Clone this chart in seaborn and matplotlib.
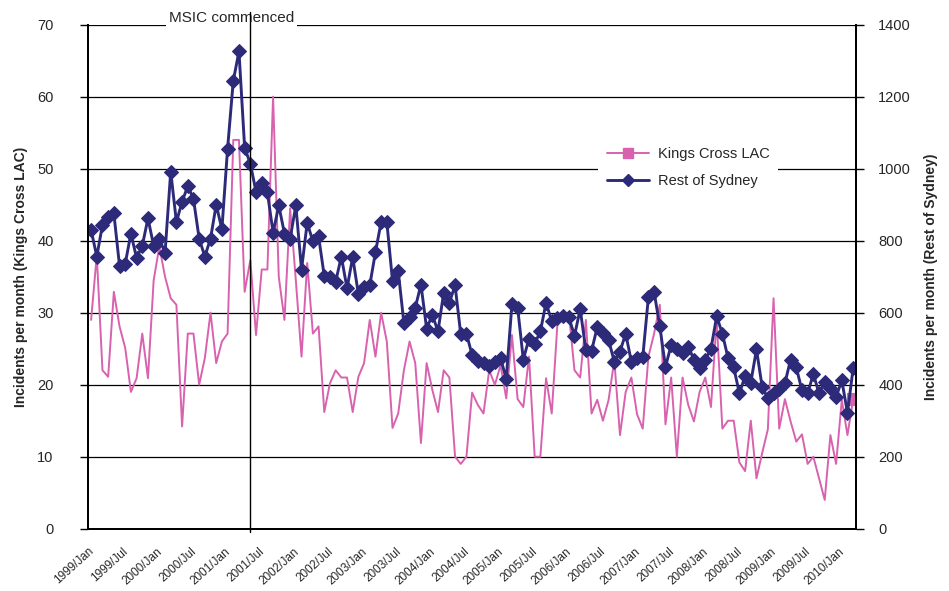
import numpy as np
import pandas as pd
import matplotlib
matplotlib.use("Agg")
import matplotlib.pyplot as plt
import seaborn as sns
from matplotlib.lines import Line2D

# monthly incidents, Jan 1999 - Mar 2010
kings_cross = [
    29.0, 38.0, 22.0, 21.1, 32.9, 28.1, 25.1, 19.0, 20.9, 27.1, 20.9, 34.5,
    39.2, 35.0, 32.0, 31.1, 14.2, 27.1, 27.1, 20.0, 23.7, 30.0, 23.0, 26.0,
    27.1, 54.0, 54.0, 32.9, 37.3, 26.9, 36.0, 36.0, 60.0, 35.0, 29.0, 44.5,
    34.5, 23.9, 36.9, 27.1, 28.1, 16.2, 20.2, 22.0, 21.0, 21.0, 16.2, 21.1,
    23.0, 29.0, 23.9, 30.0, 26.0, 14.0, 16.0, 22.0, 26.0, 23.0, 11.9, 23.0,
    19.3, 16.2, 22.0, 21.0, 10.0, 9.0, 10.0, 18.9, 17.2, 16.0, 22.0, 20.0,
    22.7, 18.1, 26.9, 18.0, 16.9, 23.9, 10.0, 10.0, 20.9, 16.0, 28.5, 29.7,
    30.0, 22.0, 21.0, 29.0, 16.0, 17.9, 15.0, 17.9, 23.4, 13.0, 19.0, 21.0,
    15.9, 13.9, 23.9, 27.1, 31.1, 14.5, 21.0, 10.0, 21.0, 17.2, 14.9, 19.0,
    21.0, 16.9, 29.0, 13.9, 15.0, 15.0, 9.2, 8.0, 15.0, 7.0, 10.5, 13.8,
    32.0, 13.9, 18.0, 14.9, 12.1, 13.1, 9.0, 10.0, 7.0, 4.0, 13.0, 9.0,
    17.9, 13.0, 18.0,
]
rest_of_sydney = [
    830, 756, 844, 866, 876, 730, 736, 820, 752, 786, 862, 786,
    806, 766, 992, 852, 908, 952, 916, 806, 756, 806, 900, 832,
    1056, 1244, 1326, 1058, 1014, 936, 960, 934, 822, 898, 820, 806,
    898, 720, 850, 798, 812, 702, 700, 686, 756, 668, 754, 652,
    672, 676, 768, 852, 852, 688, 716, 572, 588, 614, 678, 556,
    594, 548, 656, 628, 676, 540, 542, 482, 466, 460, 452, 464,
    474, 416, 624, 614, 470, 528, 514, 548, 628, 576, 584, 590,
    588, 536, 610, 496, 494, 560, 544, 524, 464, 492, 542, 464,
    474, 476, 644, 658, 562, 450, 510, 500, 488, 506, 470, 446,
    470, 500, 590, 542, 474, 448, 376, 424, 406, 498, 394, 362,
    376, 388, 404, 470, 448, 384, 376, 430, 376, 408, 390, 366,
    412, 322, 446,
]
msic_month = "2001/May"

months = pd.date_range("1999-01-01", periods=len(kings_cross), freq="MS")
month_labels = [d.strftime("%Y/%b") for d in months]
df = pd.DataFrame({
    "pos": np.arange(len(month_labels)),
    "month": month_labels,
    "kings": kings_cross,
    "rest": rest_of_sydney,
})

pink = "#D862AE"
navy = "#2D2A7A"

sns.set_theme(style="white")
plt.rcParams["font.family"] = ["Liberation Sans", "DejaVu Sans"]

fig = plt.figure(figsize=(9.49, 5.91), dpi=100)
ax = fig.add_axes([0.093, 0.1054, 0.809, 0.8528])
ax2 = ax.twinx()

# Kings Cross on the left axis, thin pink line
sns.lineplot(data=df, x="pos", y="kings", ax=ax, color=pink, lw=1.4,
             marker="s", markersize=8, markevery=[len(df) - 1],
             markeredgecolor=pink, legend=False)
# Rest of Sydney on the right axis, navy with diamonds
sns.lineplot(data=df, x="pos", y="rest", ax=ax2, color=navy, lw=2.1,
             marker="D", markersize=7.5, markeredgecolor=navy, legend=False)

n = len(df)
ax.set_xlim(-0.5, n - 0.5)
ax.set_ylim(0, 70)
ax2.set_ylim(0, 1400)
ax.set_yticks(range(0, 71, 10))
ax2.set_yticks(range(0, 1401, 200))
ax.yaxis.grid(True, color="black", lw=0.9)
ax.set_axisbelow(True)

xt = np.arange(0, n, 6) - 0.5
ax.set_xticks(xt)
ax.set_xticklabels([month_labels[i] for i in range(0, n, 6)], rotation=42,
                   ha="right", rotation_mode="anchor", fontsize=8.5)
ax.tick_params(axis="x", direction="inout", length=8, width=1, color="black", pad=8)
ax.tick_params(axis="y", direction="out", length=6, width=1, color="black",
               labelsize=10.5, pad=19)
ax2.tick_params(axis="y", direction="out", length=6, width=1, color="black",
                labelsize=10.5, pad=10, right=True)

for a in (ax, ax2):
    for s in a.spines.values():
        s.set_color("black")
        s.set_linewidth(1.3)
    a.spines["top"].set_visible(False)
ax.set_xlabel("")
ax.set_ylabel("Incidents per month (Kings Cross LAC)", fontsize=10, fontweight="bold")
ax2.set_ylabel("Incidents per month (Rest of Sydney)", fontsize=10, fontweight="bold",
               rotation=90)
ax.yaxis.set_label_coords(-0.078, 0.5)
ax2.yaxis.set_label_coords(1.088, 0.5)

# MSIC marker
msic_pos = month_labels.index(msic_month)
ax2.text(msic_pos - 3.3, 1418, "MSIC commenced", ha="center", va="center", fontsize=11,
         bbox=dict(facecolor="white", edgecolor="none", pad=2), zorder=5, clip_on=False)
ax2.plot([msic_pos, msic_pos], [-10, 1435], color="black", lw=1, zorder=6, clip_on=False)

handles = [
    Line2D([], [], color=pink, lw=1.4, marker="s", markersize=7),
    Line2D([], [], color=navy, lw=2.1, marker="D", markersize=6.5),
]
leg = ax2.legend(handles, ["Kings Cross LAC", "Rest of Sydney"], loc="center",
                 bbox_to_anchor=(0.725, 0.717), bbox_transform=fig.transFigure,
                 fontsize=10.5, frameon=True, facecolor="white", edgecolor="none",
                 framealpha=1, fancybox=False, handlelength=2.9, handletextpad=0.6,
                 labelspacing=0.9, borderpad=0.6)
leg.set_zorder(7)

fig.savefig("out.png", dpi=100, facecolor="white")
